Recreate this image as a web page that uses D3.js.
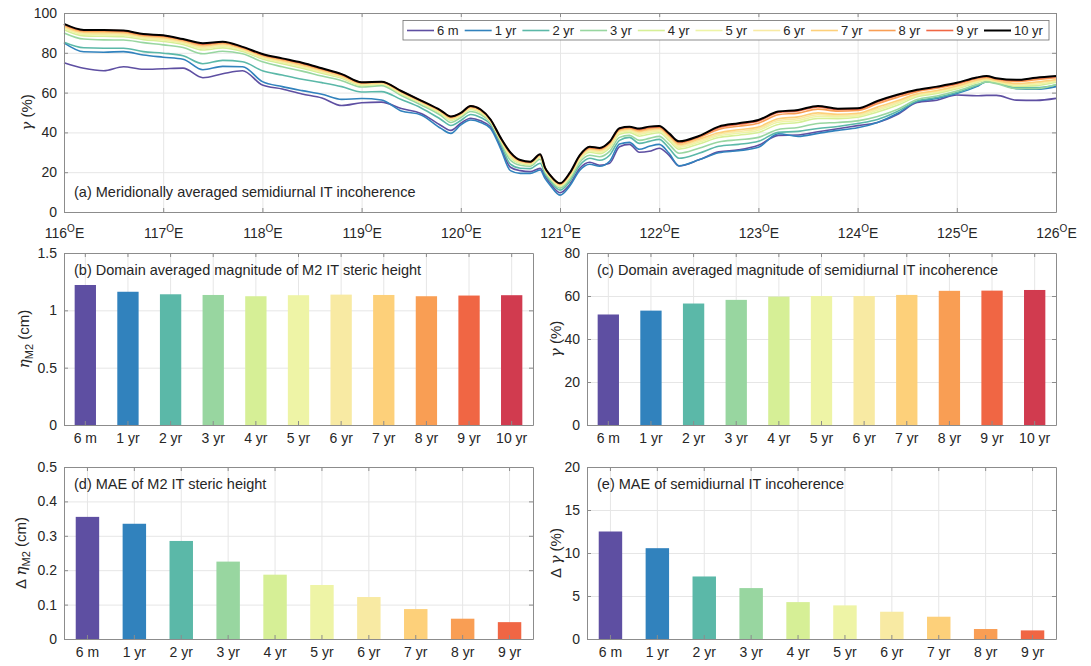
<!DOCTYPE html>
<html>
<head>
<meta charset="utf-8">
<script src="https://cdn.jsdelivr.net/npm/d3@7"></script>
<style>
  body { margin: 0; background: #fff; }
  svg { font-family: "Liberation Sans", Arial, Helvetica, sans-serif; }
</style>
</head>
<body>
<div id="chart"></div>
<script>
// ---- data ----
var lon = [116.0, 116.2, 116.4, 116.6, 116.8, 117.0, 117.2, 117.4, 117.6, 117.8,
  118.0, 118.2, 118.4, 118.6, 118.8, 119.0, 119.2, 119.4, 119.6, 119.8,
  119.9, 120.0, 120.1, 120.2, 120.3, 120.4, 120.5, 120.6, 120.7, 120.8,
  120.85, 120.9, 121.0, 121.1, 121.2, 121.3, 121.4, 121.5, 121.6, 121.7,
  121.8, 121.9, 122.0, 122.1, 122.2, 122.4, 122.6, 122.8, 123.0, 123.2,
  123.4, 123.6, 123.8, 124.0, 124.2, 124.4, 124.6, 124.8, 125.0, 125.2,
  125.3, 125.4, 125.6, 125.8, 126.0];

var s6m = [75.0, 72.2, 71.0, 73.0, 71.7, 72.0, 72.3, 67.5, 69.5, 71.0, 63.8, 61.8, 59.3, 57.3, 53.5, 54.9, 55.2, 52.0, 49.5, 43.5, 41.0, 44.6, 47.1, 45.8, 42.8, 33.0, 22.5, 20.8, 20.3, 21.9, 18.0, 14.5, 9.7, 14.0, 22.0, 25.0, 23.5, 24.5, 32.8, 34.0, 30.0, 30.5, 32.0, 28.5, 23.2, 26.2, 30.2, 31.2, 33.5, 38.5, 38.7, 40.3, 41.8, 43.4, 45.0, 49.0, 55.0, 56.2, 58.8, 58.4, 58.6, 58.6, 56.2, 56.1, 57.1];
var s1yr = [85.0, 80.5, 80.3, 80.6, 78.9, 77.8, 76.8, 71.5, 73.2, 73.0, 65.5, 63.0, 61.0, 59.2, 56.6, 57.0, 56.3, 50.8, 48.8, 42.0, 39.5, 43.8, 46.2, 45.0, 42.0, 32.0, 20.8, 19.4, 19.4, 21.1, 16.8, 13.5, 8.5, 13.2, 21.0, 24.0, 23.0, 25.5, 34.2, 35.0, 31.5, 33.0, 34.0, 29.5, 23.2, 26.2, 29.8, 30.8, 32.5, 39.3, 38.0, 39.5, 41.0, 42.3, 45.0, 49.5, 55.5, 57.0, 59.5, 63.0, 65.5, 65.0, 62.0, 61.7, 63.0];
var s2yr = [85.3, 82.5, 82.3, 82.3, 80.6, 79.8, 78.5, 74.5, 76.2, 75.5, 71.0, 68.8, 66.7, 65.0, 63.0, 60.3, 60.5, 56.5, 52.3, 46.5, 43.5, 46.0, 49.0, 47.5, 44.0, 34.5, 24.0, 22.0, 21.8, 24.5, 19.0, 15.5, 11.0, 15.5, 23.5, 27.0, 26.0, 28.5, 36.0, 37.5, 34.5, 35.5, 36.5, 32.0, 27.0, 29.5, 33.0, 34.0, 35.5, 40.0, 40.5, 42.0, 43.0, 44.5, 46.5, 50.5, 55.8, 57.5, 60.0, 63.5, 65.3, 65.0, 62.5, 62.5, 63.8];
var s3yr = [90.0, 86.9, 86.5, 86.4, 85.1, 84.0, 82.7, 79.5, 80.8, 79.5, 75.5, 73.0, 70.8, 68.3, 66.0, 62.8, 63.5, 58.5, 53.8, 48.5, 45.0, 47.5, 50.5, 49.0, 45.0, 35.5, 26.0, 23.5, 23.0, 26.5, 20.0, 16.5, 12.0, 16.5, 25.0, 28.5, 27.8, 30.5, 37.5, 38.5, 36.0, 37.0, 38.0, 34.0, 29.5, 32.0, 35.2, 36.3, 37.5, 41.5, 42.5, 44.5, 45.0, 45.8, 48.0, 51.5, 56.5, 58.3, 60.8, 64.0, 65.3, 64.5, 62.0, 62.0, 64.0];
var s4yr = [91.6, 88.5, 88.3, 88.1, 86.6, 85.7, 84.2, 81.4, 82.5, 80.7, 76.9, 74.5, 72.3, 69.7, 67.2, 63.6, 64.2, 59.3, 54.6, 49.4, 46.1, 48.3, 51.5, 49.9, 45.5, 36.2, 27.4, 24.4, 23.8, 27.4, 20.8, 17.2, 12.8, 17.7, 26.3, 30.0, 29.3, 32.2, 39.1, 40.0, 38.1, 39.1, 39.8, 35.9, 31.6, 34.2, 37.4, 38.6, 39.9, 44.0, 45.0, 47.0, 46.9, 47.6, 50.2, 53.6, 57.9, 59.6, 62.0, 65.0, 66.1, 65.3, 63.2, 63.5, 65.2];
var s5yr = [92.3, 89.2, 89.0, 88.8, 87.3, 86.4, 84.8, 82.2, 83.2, 81.3, 77.5, 75.1, 72.9, 70.3, 67.7, 64.0, 64.5, 59.7, 54.9, 49.8, 46.5, 48.7, 51.9, 50.3, 45.8, 36.5, 28.0, 24.8, 24.2, 27.8, 21.1, 17.6, 13.2, 18.2, 26.8, 30.7, 30.0, 32.9, 39.8, 40.7, 39.0, 40.0, 40.6, 36.8, 32.5, 35.1, 38.3, 39.6, 41.0, 45.1, 46.0, 48.0, 47.8, 48.3, 51.1, 54.5, 58.5, 60.2, 62.4, 65.4, 66.5, 65.6, 63.8, 64.2, 65.7];
var s6yr = [92.8, 89.8, 89.6, 89.4, 87.8, 87.0, 85.3, 82.8, 83.8, 81.7, 77.9, 75.6, 73.4, 70.7, 68.0, 64.3, 64.7, 59.9, 55.2, 50.1, 46.9, 48.9, 52.2, 50.6, 45.9, 36.7, 28.5, 25.1, 24.4, 28.1, 21.4, 17.8, 13.5, 18.5, 27.2, 31.2, 30.5, 33.5, 40.4, 41.2, 39.7, 40.7, 41.2, 37.4, 33.2, 35.8, 39.1, 40.5, 41.9, 46.0, 46.9, 48.9, 48.5, 49.0, 51.9, 55.2, 59.0, 60.7, 62.9, 65.8, 66.8, 65.9, 64.2, 64.8, 66.2];
var s7yr = [93.3, 90.3, 90.2, 90.0, 88.3, 87.6, 85.8, 83.4, 84.4, 82.1, 78.4, 76.1, 73.9, 71.2, 68.4, 64.6, 65.0, 60.2, 55.4, 50.4, 47.2, 49.2, 52.6, 50.9, 46.1, 37.0, 29.0, 25.4, 24.7, 28.4, 21.6, 18.1, 13.8, 18.9, 27.7, 31.7, 31.1, 34.1, 40.9, 41.7, 40.4, 41.4, 41.8, 38.1, 33.9, 36.6, 39.8, 41.3, 42.7, 46.9, 47.8, 49.8, 49.1, 49.6, 52.7, 55.9, 59.4, 61.1, 63.3, 66.2, 67.1, 66.1, 64.6, 65.3, 66.6];
var s8yr = [93.9, 90.9, 90.9, 90.6, 88.8, 88.2, 86.4, 84.1, 85.0, 82.5, 78.9, 76.7, 74.5, 71.7, 68.9, 64.9, 65.2, 60.5, 55.7, 50.7, 47.6, 49.5, 52.9, 51.2, 46.3, 37.2, 29.5, 25.8, 25.0, 28.7, 21.9, 18.4, 14.1, 19.4, 28.1, 32.2, 31.6, 34.7, 41.5, 42.2, 41.1, 42.1, 42.5, 38.8, 34.7, 37.4, 41.5, 43.1, 44.6, 48.9, 49.7, 51.7, 50.7, 51.0, 54.4, 57.6, 60.5, 62.2, 64.2, 67.0, 67.8, 66.7, 65.6, 66.5, 67.5];
var s9yr = [94.3, 91.3, 91.3, 91.0, 89.2, 88.6, 86.7, 84.5, 85.4, 82.8, 79.2, 77.0, 74.8, 72.0, 69.1, 65.1, 65.4, 60.7, 55.9, 50.9, 47.9, 49.7, 53.2, 51.4, 46.4, 37.4, 29.8, 26.0, 25.2, 28.9, 22.1, 18.5, 14.3, 19.6, 28.4, 32.6, 32.0, 35.1, 41.9, 42.6, 41.6, 42.6, 42.9, 39.2, 35.2, 37.9, 42.4, 44.1, 45.7, 50.0, 50.8, 52.8, 51.5, 51.7, 55.3, 58.5, 61.1, 62.7, 64.6, 67.4, 68.1, 67.0, 66.1, 67.2, 68.0];
var s10yr = [94.5, 91.5, 91.5, 91.2, 89.4, 88.8, 86.9, 84.8, 85.6, 83.0, 79.4, 77.2, 75.0, 72.2, 69.3, 65.2, 65.5, 60.8, 56.0, 51.0, 48.0, 49.8, 53.3, 51.5, 46.5, 37.5, 30.0, 26.1, 25.3, 29.0, 22.2, 18.6, 14.4, 19.8, 28.6, 32.8, 32.2, 35.3, 42.1, 42.8, 41.9, 42.9, 43.2, 39.5, 35.5, 38.2, 42.9, 44.6, 46.2, 50.5, 51.3, 53.3, 51.9, 52.1, 55.8, 58.9, 61.4, 63.0, 64.9, 67.6, 68.3, 67.2, 66.4, 67.5, 68.3];

var periods = ["6 m", "1 yr", "2 yr", "3 yr", "4 yr", "5 yr", "6 yr", "7 yr", "8 yr", "9 yr", "10 yr"];
var lineSeries = [s6m, s1yr, s2yr, s3yr, s4yr, s5yr, s6yr, s7yr, s8yr, s9yr, s10yr];

var ampSteric = [1.221, 1.162, 1.140, 1.134, 1.123, 1.132, 1.137, 1.134, 1.123, 1.129, 1.132];
var ampIncoh = [51.4, 53.2, 56.5, 58.2, 59.7, 60.0, 60.0, 60.5, 62.4, 62.5, 62.8];
var maePeriods = ["6 m", "1 yr", "2 yr", "3 yr", "4 yr", "5 yr", "6 yr", "7 yr", "8 yr", "9 yr"];
var maeSteric = [0.355, 0.335, 0.285, 0.225, 0.187, 0.157, 0.122, 0.087, 0.059, 0.049];
var maeIncoh = [12.5, 10.56, 7.27, 5.92, 4.29, 3.91, 3.17, 2.59, 1.16, 1.0];

var lonTicks = [116, 117, 118, 119, 120, 121, 122, 123, 124, 125, 126];
var ticksA = [0, 20, 40, 60, 80, 100];
var ticksB = [0, 0.5, 1, 1.5];
var ticksC = [0, 20, 40, 60, 80];
var ticksD = [0, 0.1, 0.2, 0.3, 0.4, 0.5];
var ticksE = [0, 5, 10, 15, 20];

// ---- style ----
var colors = ["#5e4fa2", "#3182bd", "#5bb8a8", "#98d6a0", "#d6ef96", "#eef4a6",
  "#f8eaa3", "#fdd07a", "#f99e54", "#f06644", "#d13b4f"];
var lineColors = colors.slice(0, 10).concat(["#000000"]);
var textColor = "#262626", boxColor = "#8c8c8c", gridColor = "#e6e6e6";

var svg = d3.select("#chart").append("svg")
  .attr("width", 1091)
  .attr("height", 666);

function panel(left, top, w, h) {
  return svg.append("g").attr("transform", `translate(${left}, ${top})`);
}

function drawGrid(g, x, y, w, h, xTicks, yTicks) {
  g.append("g")
    .attr("transform", `translate(0, ${h})`)
    .call(d3.axisBottom(x).tickValues(xTicks).tickSize(-h).tickFormat(""))
    .call(s => { s.select(".domain").remove(); s.selectAll("line").attr("stroke", gridColor); });
  g.append("g")
    .call(d3.axisLeft(y).tickValues(yTicks).tickSize(-w).tickFormat(""))
    .call(s => { s.select(".domain").remove(); s.selectAll("line").attr("stroke", gridColor); });
}

function styleAxis(s) {
  s.select(".domain").attr("stroke", boxColor);
  s.selectAll(".tick line").attr("stroke", boxColor);
  s.selectAll(".tick text").attr("fill", textColor).attr("font-size", "14px");
}

function drawFrame(g, x, y, w, h, xTicks, yTicks, xPad) {
  var xb = g.append("g")
    .attr("transform", `translate(0, ${h})`)
    .call(d3.axisBottom(x).tickValues(xTicks).tickSize(-4).tickSizeOuter(0).tickPadding(xPad))
    .call(styleAxis);
  g.append("g")
    .call(d3.axisTop(x).tickValues(xTicks).tickSize(-4).tickSizeOuter(0).tickFormat(""))
    .call(styleAxis);
  g.append("g")
    .call(d3.axisLeft(y).tickValues(yTicks).tickSize(-4).tickSizeOuter(0).tickPadding(7).tickFormat(d => d))
    .call(styleAxis);
  g.append("g")
    .attr("transform", `translate(${w}, 0)`)
    .call(d3.axisRight(y).tickValues(yTicks).tickSize(-4).tickSizeOuter(0).tickFormat(""))
    .call(styleAxis);
  return xb;
}

function panelLabel(g, txt, yPos) {
  g.append("text")
    .attr("x", 10)
    .attr("y", yPos)
    .attr("font-size", "14.5px")
    .attr("fill", textColor)
    .text(txt);
}

// y-label: parts = [[text, style]] style: "i" italic, "sub" subscript
function yLabel(cx, cy, parts) {
  var t = svg.append("text")
    .attr("transform", `translate(${cx}, ${cy}) rotate(-90)`)
    .attr("text-anchor", "middle")
    .attr("dy", "0.35em")
    .attr("font-size", "15px")
    .attr("fill", textColor);
  var shift = 0;
  parts.forEach(function (p) {
    var ts = t.append("tspan").text(p[0]);
    if (p[1] === "i") ts.attr("font-style", "italic").attr("font-family", "'DejaVu Serif', serif");
    if (p[1] === "sub") { ts.attr("font-size", "11px").attr("dy", 4); shift = 4; }
    else if (shift) { ts.attr("dy", -shift); shift = 0; }
  });
}

// ---- (a) line panel ----
var wA = 992, hA = 199;
var gA = panel(64, 13, wA, hA);
var xA = d3.scaleLinear().domain([116, 126]).range([0, wA]);
var yA = d3.scaleLinear().domain([0, 100]).range([hA, 0]);
drawGrid(gA, xA, yA, wA, hA, lonTicks, ticksA);

var line = d3.line()
  .x((d, i) => xA(lon[i]))
  .y(d => yA(d))
  .curve(d3.curveMonotoneX);

lineSeries.forEach(function (s, k) {
  gA.append("path")
    .datum(s)
    .attr("fill", "none")
    .attr("stroke", lineColors[k])
    .attr("stroke-width", k === 10 ? 2 : 1.6)
    .attr("stroke-linejoin", "round")
    .attr("d", line);
});

var xAxisA = drawFrame(gA, xA, yA, wA, hA, lonTicks, ticksA, 16);
xAxisA.selectAll(".tick text").each(function (d) {
  var t = d3.select(this).text(null);
  t.append("tspan").text(d);
  t.append("tspan").attr("font-size", "10px").attr("dy", -6).text("O");
  t.append("tspan").attr("dy", 6).text("E");
});
panelLabel(gA, "(a) Meridionally averaged semidiurnal IT incoherence", 184);

// legend
var legend = svg.append("g").attr("transform", "translate(403, 20.5)");
legend.append("rect")
  .attr("width", 646)
  .attr("height", 19.5)
  .attr("fill", "#fff")
  .attr("stroke", "#6e6e6e")
  .attr("stroke-width", 0.8);
periods.forEach(function (p, k) {
  var lx = 4 + k * 57.7;
  legend.append("line")
    .attr("x1", lx).attr("x2", lx + 27)
    .attr("y1", 10).attr("y2", 10)
    .attr("stroke", lineColors[k])
    .attr("stroke-width", k === 10 ? 2 : 1.6);
  legend.append("text")
    .attr("x", lx + 30)
    .attr("y", 10)
    .attr("dy", "0.35em")
    .attr("font-size", "13px")
    .attr("fill", textColor)
    .text(p);
});

// ---- bar panels ----
function barPanel(left, top, cats, vals, yMax, yTicks, label) {
  var w = 469, h = 172;
  var g = panel(left, top, w, h);
  var x = d3.scaleBand().domain(cats).range([0, w]).paddingInner(0.5).paddingOuter(0.25);
  var y = d3.scaleLinear().domain([0, yMax]).range([h, 0]);
  drawGrid(g, x, y, w, h, cats, yTicks);
  g.selectAll("rect.bar")
    .data(vals)
    .enter()
    .append("rect")
    .attr("class", "bar")
    .attr("x", (d, i) => x(cats[i]))
    .attr("y", d => y(d))
    .attr("width", x.bandwidth())
    .attr("height", d => h - y(d))
    .attr("fill", (d, i) => colors[i]);
  drawFrame(g, x, y, w, h, cats, yTicks, 8);
  panelLabel(g, label, 22);
  return g;
}

barPanel(64, 253, periods, ampSteric, 1.5, ticksB, "(b) Domain averaged magnitude of M2 IT steric height");
barPanel(587, 253, periods, ampIncoh, 80, ticksC, "(c) Domain averaged magnitude of semidiurnal IT incoherence");
barPanel(64, 467, maePeriods, maeSteric, 0.5, ticksD, "(d) MAE of M2 IT steric height");
barPanel(587, 467, maePeriods, maeIncoh, 20, ticksE, "(e) MAE of semidiurnal IT incoherence");

// axis titles
yLabel(27, 112.5, [["γ", "i"], [" (%)", ""]]);
yLabel(24, 339, [["η", "i"], ["M2", "sub"], [" (cm)", ""]]);
yLabel(556, 339, [["γ", "i"], [" (%)", ""]]);
yLabel(21, 553, [["Δ ", ""], ["η", "i"], ["M2", "sub"], [" (cm)", ""]]);
yLabel(556, 553, [["Δ ", ""], ["γ", "i"], [" (%)", ""]]);
</script>
</body>
</html>
